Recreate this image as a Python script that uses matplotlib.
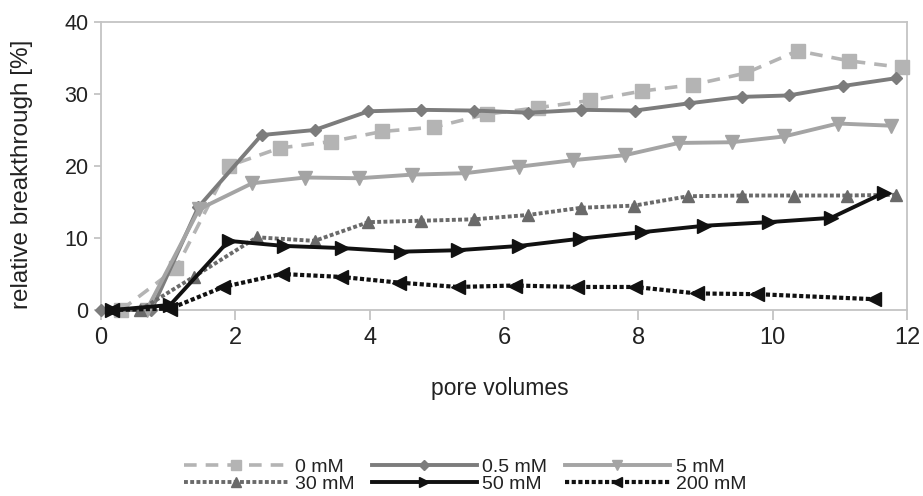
import matplotlib
matplotlib.use("Agg")
import matplotlib.pyplot as plt

plt.rcParams['font.family'] = ['Liberation Sans', 'DejaVu Sans']

labels = ["0 mM", "0.5 mM", "5 mM", "30 mM", "50 mM", "200 mM"]

x_0 = [0.3, 1.12, 1.9, 2.66, 3.43, 4.19, 4.96, 5.74, 6.51, 7.28, 8.05, 8.82, 9.60, 10.37, 11.14, 11.92]
y_0 = [0, 5.8, 20.0, 22.5, 23.4, 24.8, 25.4, 27.2, 28.1, 29.1, 30.4, 31.3, 32.9, 36.0, 34.6, 33.7]

x_05 = [0, 0.75, 1.45, 2.39, 3.18, 3.98, 4.77, 5.56, 6.36, 7.15, 7.95, 8.75, 9.54, 10.24, 11.04, 11.84]
y_05 = [0, 0, 14.3, 24.3, 25.0, 27.6, 27.8, 27.7, 27.4, 27.8, 27.7, 28.7, 29.6, 29.8, 31.1, 32.2]

x_5 = [0.68, 1.46, 2.25, 3.04, 3.84, 4.63, 5.42, 6.22, 7.02, 7.80, 8.60, 9.39, 10.17, 10.97, 11.76]
y_5 = [0, 14.0, 17.6, 18.4, 18.3, 18.8, 19.0, 19.9, 20.8, 21.5, 23.2, 23.3, 24.1, 25.9, 25.6]

x_30 = [0.58, 1.38, 2.32, 3.18, 3.98, 4.77, 5.56, 6.36, 7.15, 7.94, 8.74, 9.54, 10.32, 11.11, 11.84]
y_30 = [0, 4.6, 10.1, 9.6, 12.2, 12.4, 12.6, 13.2, 14.2, 14.5, 15.8, 15.9, 15.9, 15.9, 16.0]

x_50 = [0.17, 1.03, 1.90, 2.72, 3.59, 4.46, 5.31, 6.23, 7.13, 8.05, 8.98, 9.94, 10.87, 11.66]
y_50 = [0, 0.7, 9.6, 8.9, 8.6, 8.1, 8.3, 8.9, 9.9, 10.8, 11.7, 12.2, 12.8, 16.3]

x_200 = [0.17, 1.03, 1.82, 2.69, 3.57, 4.44, 5.31, 6.16, 7.08, 7.95, 8.87, 9.77, 11.51]
y_200 = [0, 0.2, 3.2, 5.0, 4.6, 3.8, 3.2, 3.4, 3.2, 3.2, 2.3, 2.2, 1.5]

xs = [x_0, x_05, x_5, x_30, x_50, x_200]
ys = [y_0, y_05, y_5, y_30, y_50, y_200]

styles = [
    dict(color="#b4b4b4", ls=(0, (3.5, 2.5)), marker="s", ms=10, lw=2.6),
    dict(color="#7c7c7c", ls="-", marker="D", ms=6.5, lw=2.8),
    dict(color="#a4a4a4", ls="-", marker="v", ms=10, lw=2.8),
    dict(color="#6a6a6a", ls=(0, (1, 0.6)), marker="^", ms=9, lw=2.8),
    dict(color="#111111", ls="-", marker=">", ms=10, lw=2.8),
    dict(color="#111111", ls=(0, (1, 0.6)), marker="<", ms=10, lw=3.0),
]

fig = plt.figure(figsize=(9.23, 4.96), dpi=100)
L, R, T, B = 101, 907, 22, 310
ax = fig.add_axes([L / 923, 1 - B / 496, (R - L) / 923, (B - T) / 496])

for x, y, lab, st in zip(xs, ys, labels, styles):
    ax.plot(x, y, label=lab, color=st["color"], linestyle=st["ls"], linewidth=st["lw"],
            marker=st["marker"], markersize=st["ms"], markeredgecolor=st["color"],
            markerfacecolor=st["color"], clip_on=False, zorder=3)

ax.set_xlim(0, 12)
ax.set_ylim(0, 40)
ax.set_xticks([0, 2, 4, 6, 8, 10, 12])
ax.set_yticks([0, 10, 20, 30, 40])
for s in ax.spines.values():
    s.set_color("#c4c4c4")
    s.set_linewidth(1.3)
ax.tick_params(axis="both", colors="#c4c4c4", labelcolor="#222222", width=1.3)
ax.tick_params(axis="x", labelsize=17, length=7, pad=5)
ax.tick_params(axis="y", labelsize=15.5, length=5, pad=4)

fig.text(500 / 923, 1 - 388 / 496, "pore volumes", fontsize=16.5, color="#222222",
         ha="center", va="center")
fig.text(22 / 923, 1 - 174 / 496, "relative breakthrough [%]", fontsize=17.5, color="#222222",
         ha="center", va="center", rotation=90)

handles, labs = ax.get_legend_handles_labels()
order = [0, 3, 1, 4, 2, 5]
leg = fig.legend([handles[i] for i in order], [labs[i] for i in order], ncol=3,
                 loc="center", bbox_to_anchor=(465 / 923, 1 - 475.5 / 496), frameon=False,
                 fontsize=14, handlelength=5.4, handletextpad=0.3, columnspacing=0.9,
                 labelspacing=0.0, markerscale=0.75, borderpad=0, borderaxespad=0)
for t in leg.get_texts():
    t.set_color("#222222")

fig.savefig("out.png", dpi=100)
